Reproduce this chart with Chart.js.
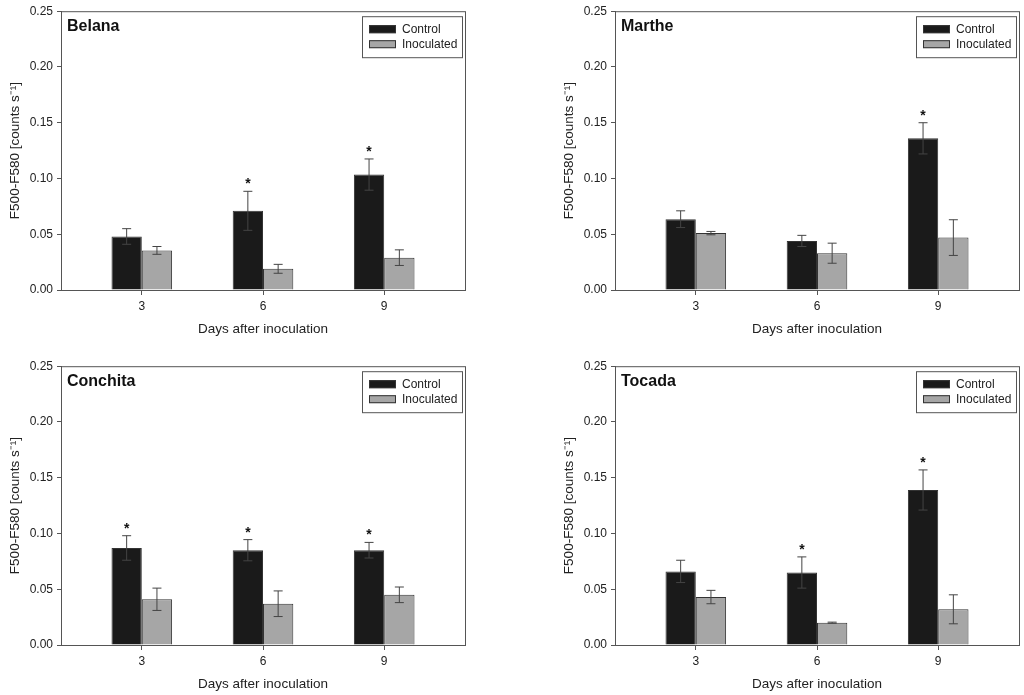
<!DOCTYPE html>
<html>
<head>
<meta charset="utf-8">
<script src="https://cdn.jsdelivr.net/npm/chart.js@4.4.1/dist/chart.umd.min.js"></script>
<style>
  body { margin: 0; background: #fff; }
  canvas { position: absolute; }
</style>
</head>
<body>
<canvas id="belana" width="470" height="340" style="left:0;top:0"></canvas>
<canvas id="marthe" width="470" height="340" style="left:554px;top:0"></canvas>
<canvas id="conchita" width="470" height="340" style="left:0;top:355px"></canvas>
<canvas id="tocada" width="470" height="340" style="left:554px;top:355px"></canvas>
<script>
const days = [3, 6, 9];
const yTicks = [0, 0.05, 0.10, 0.15, 0.20, 0.25];
const seriesNames = ['Control', 'Inoculated'];

const belanaControl = [0.048, 0.071, 0.1035];
const belanaControlErr = [0.007, 0.0175, 0.014];
const belanaInoc = [0.0355, 0.019, 0.029];
const belanaInocErr = [0.0035, 0.004, 0.007];
const belanaStars = [false, true, true];

const martheControl = [0.0635, 0.044, 0.136];
const martheControlErr = [0.0075, 0.005, 0.014];
const martheInoc = [0.051, 0.033, 0.047];
const martheInocErr = [0.0015, 0.009, 0.016];
const martheStars = [false, false, true];

const conchitaControl = [0.087, 0.085, 0.085];
const conchitaControlErr = [0.011, 0.0095, 0.007];
const conchitaInoc = [0.041, 0.037, 0.045];
const conchitaInocErr = [0.010, 0.0115, 0.007];
const conchitaStars = [true, true, true];

const tocadaControl = [0.066, 0.065, 0.139];
const tocadaControlErr = [0.010, 0.014, 0.018];
const tocadaInoc = [0.043, 0.020, 0.032];
const tocadaInocErr = [0.006, 0.0005, 0.013];
const tocadaStars = [false, true, true];

const FONT = '"Liberation Sans", Arial, sans-serif';
const AXIS_COLOR = '#555';
const fills = ['#1a1a1a', '#a6a6a6'];

const extras = {
  id: 'extras',
  afterDatasetsDraw(chart) {
    const ctx = chart.ctx;
    const y = chart.scales.y;
    ctx.save();
    ctx.strokeStyle = '#444';
    ctx.lineWidth = 1;
    chart.data.datasets.forEach((ds, di) => {
      const meta = chart.getDatasetMeta(di);
      meta.data.forEach((bar, i) => {
        const v = ds.data[i].y;
        const e = ds.errors[i];
        const top = y.getPixelForValue(v + e);
        const bot = y.getPixelForValue(v - e);
        ctx.beginPath();
        ctx.moveTo(bar.x, top);
        ctx.lineTo(bar.x, bot);
        ctx.moveTo(bar.x - 4.5, top);
        ctx.lineTo(bar.x + 4.5, top);
        ctx.moveTo(bar.x - 4.5, bot);
        ctx.lineTo(bar.x + 4.5, bot);
        ctx.stroke();
        if (ds.stars && ds.stars[i]) {
          ctx.fillStyle = '#111';
          ctx.font = 'bold 14px ' + FONT;
          ctx.textAlign = 'center';
          ctx.textBaseline = 'alphabetic';
          ctx.fillText('*', bar.x, top - 3);
        }
      });
    });
    ctx.restore();
  },
  afterDraw(chart) {
    const ctx = chart.ctx;
    const ca = chart.chartArea;
    ctx.save();
    // frame
    ctx.strokeStyle = AXIS_COLOR;
    ctx.lineWidth = 1;
    ctx.strokeRect(ca.left + 0.5, ca.top + 0.5, ca.right - ca.left, ca.bottom - ca.top);
    // panel title
    ctx.fillStyle = '#111';
    ctx.font = 'bold 16px ' + FONT;
    ctx.textAlign = 'left';
    ctx.textBaseline = 'middle';
    ctx.fillText(chart.options.panelTitle, ca.left + 6, ca.top + 15);
    // legend
    const bx = ca.right - 103, by = ca.top + 5;
    ctx.strokeRect(bx + 0.5, by + 0.5, 100, 41);
    ctx.font = '12px ' + FONT;
    chart.data.datasets.forEach((ds, di) => {
      const sy = by + 9 + di * 15;
      ctx.fillStyle = ds.backgroundColor;
      ctx.fillRect(bx + 7, sy, 27, 8);
      ctx.strokeStyle = '#333';
      ctx.strokeRect(bx + 7.5, sy + 0.5, 26, 7);
      ctx.fillStyle = '#222';
      ctx.fillText(ds.label, bx + 40, sy + 4);
    });
    ctx.restore();
  }
};

function makeChart(id, title, control, controlErr, inoc, inocErr, stars) {
  const series = [[control, controlErr], [inoc, inocErr]];
  new Chart(document.getElementById(id), {
    type: 'bar',
    data: {
      datasets: series.map((s, k) => ({
        label: seriesNames[k],
        data: days.map((d, i) => ({ x: d, y: s[0][i] })),
        errors: s[1],
        stars: k === 0 ? stars : null,
        backgroundColor: fills[k],
        borderColor: '#333',
        borderWidth: 1,
        categoryPercentage: 0.5,
        barPercentage: 1.0
      }))
    },
    options: {
      panelTitle: title,
      responsive: false,
      animation: false,
      layout: { padding: { left: 0, right: 5, top: 8, bottom: 0 } },
      plugins: { legend: { display: false }, tooltip: { enabled: false } },
      scales: {
        x: {
          type: 'linear',
          min: 1,
          max: 11,
          offset: false,
          afterBuildTicks: s => { s.ticks = days.map(v => ({ value: v })); },
          afterFit: s => { s.height = 50; },
          ticks: { color: '#222', font: { family: FONT, size: 12 }, padding: 4 },
          grid: { offset: false, drawOnChartArea: false, color: AXIS_COLOR, tickLength: 5 },
          border: { color: AXIS_COLOR },
          title: {
            display: true,
            text: 'Days after inoculation',
            color: '#222',
            font: { family: FONT, size: 13.5 },
            padding: { top: 0, bottom: 3 }
          }
        },
        y: {
          min: 0,
          max: 0.25,
          afterBuildTicks: s => { s.ticks = yTicks.map(v => ({ value: v })); },
          afterFit: s => { s.width = 61; },
          ticks: {
            color: '#222',
            font: { family: FONT, size: 12 },
            padding: 4,
            callback: v => v.toFixed(2)
          },
          grid: { drawOnChartArea: false, color: AXIS_COLOR, tickLength: 4 },
          border: { color: AXIS_COLOR },
          title: {
            display: true,
            text: 'F500-F580 [counts s\u207B\u00B9]',
            color: '#222',
            font: { family: FONT, size: 13.5 },
            padding: { top: 7, bottom: 0 }
          }
        }
      }
    },
    plugins: [extras]
  });
}

makeChart('belana', 'Belana', belanaControl, belanaControlErr, belanaInoc, belanaInocErr, belanaStars);
makeChart('marthe', 'Marthe', martheControl, martheControlErr, martheInoc, martheInocErr, martheStars);
makeChart('conchita', 'Conchita', conchitaControl, conchitaControlErr, conchitaInoc, conchitaInocErr, conchitaStars);
makeChart('tocada', 'Tocada', tocadaControl, tocadaControlErr, tocadaInoc, tocadaInocErr, tocadaStars);
</script>
</body>
</html>
